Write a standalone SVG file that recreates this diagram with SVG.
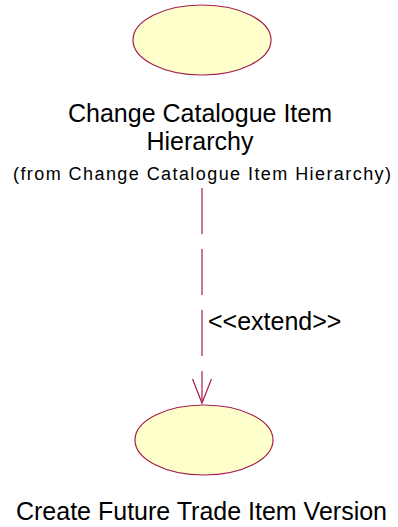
<svg xmlns="http://www.w3.org/2000/svg" width="398" height="527" viewBox="0 0 398 527">
<style>
.uc{fill:#FFFFCC;stroke:#A3204D;stroke-width:1.2}
.t{font-family:"Liberation Sans",Arial,sans-serif;fill:#000}
.big{font-size:25px}
.small{font-size:18px}
.conn{stroke:#A3204D;stroke-width:1.2;fill:none}
</style>
<rect width="398" height="527" fill="#fff"/>
<g id="connectors">
<line class="conn" x1="202" y1="188" x2="202" y2="403" stroke-dasharray="46,15"/>
<polyline class="conn" points="192.5,379 202,403 211.5,379"/>
<text class="t big" x="208" y="330">&lt;&lt;extend&gt;&gt;</text>
</g>
<g id="node-change-catalogue">
<ellipse class="uc" cx="202" cy="40" rx="69" ry="35"/>
<text class="t big" x="200" y="122" text-anchor="middle">Change Catalogue Item</text>
<text class="t big" x="200" y="150" text-anchor="middle">Hierarchy</text>
<text class="t small" x="13" y="180" textLength="378" lengthAdjust="spacing">(from Change Catalogue Item Hierarchy)</text>
</g>
<g id="node-create-future">
<ellipse class="uc" cx="204" cy="440" rx="69" ry="35"/>
<text class="t big" x="201.5" y="520" text-anchor="middle">Create Future Trade Item Version</text>
</g>
</svg>
